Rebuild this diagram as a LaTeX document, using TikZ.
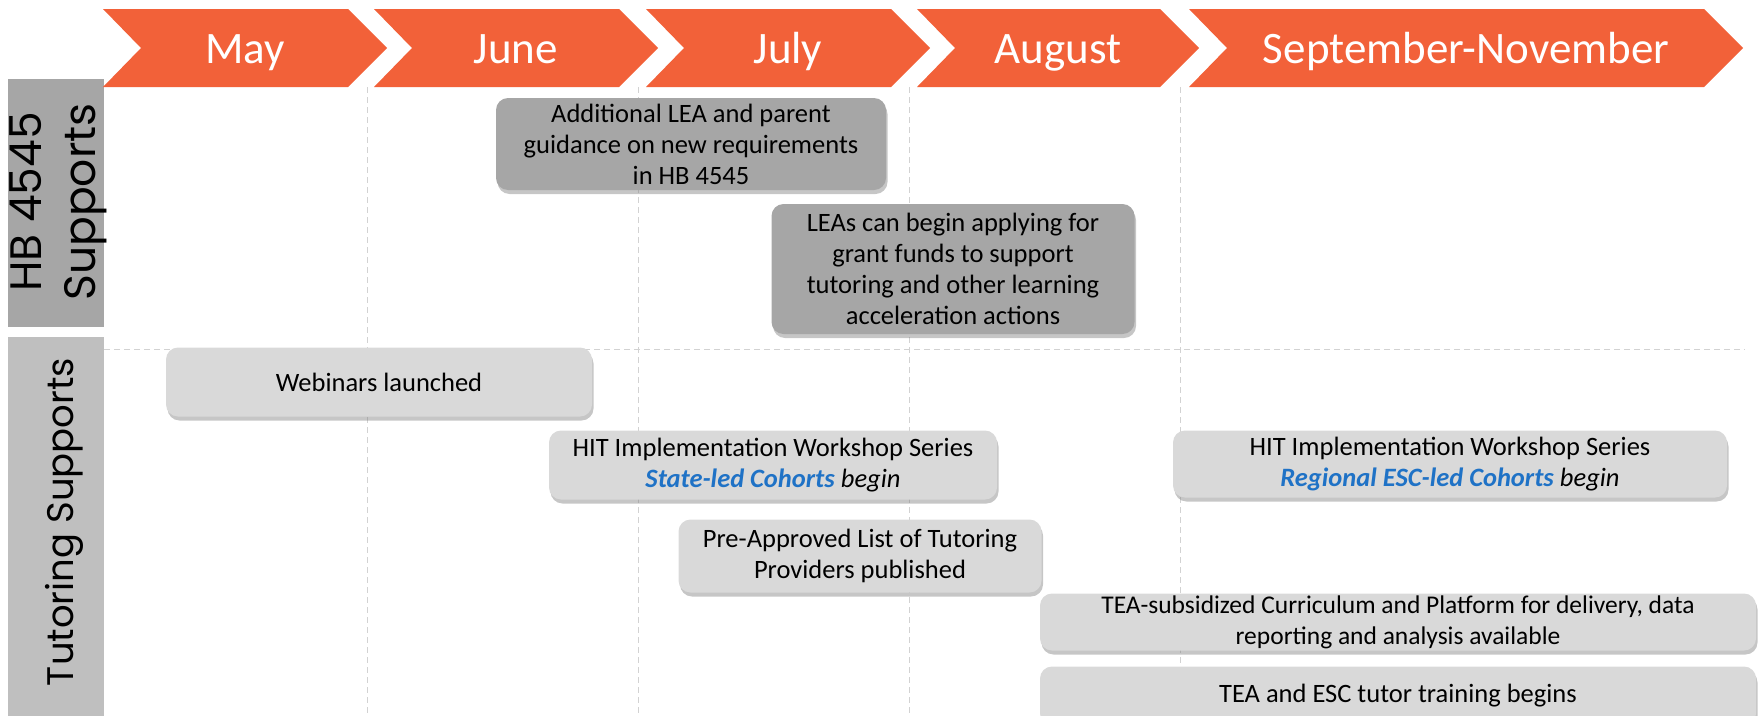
\documentclass[tikz,border=0pt]{standalone}
\usepackage{fontspec}
\setmainfont{Carlito}
\newfontfamily\sidefont{Poppins}
\usepackage{xcolor}
\usepackage{tikz}
\usetikzlibrary{shadows}

\definecolor{chevorange}{HTML}{F26139}
\definecolor{boxdark}{HTML}{A6A6A6}
\definecolor{boxlight}{HTML}{D9D9D9}
\definecolor{sidedark}{HTML}{A6A6A6}
\definecolor{sidelight}{HTML}{BFBFBF}
\definecolor{cohortblue}{HTML}{1F72C6}

\begin{document}
\begin{tikzpicture}[x=1pt, y=-1pt,
      monthlbl/.style={font=\fontsize{45}{50}\selectfont, text=white, anchor=base, inner sep=0pt},
      gridline/.style={gray!35, line width=1pt, dash pattern=on 6pt off 4pt},
      sidelbl/.style={font=\sidefont\fontsize{37}{44}\selectfont, rotate=90, align=center, inner sep=0pt},
      event/.style={rounded corners=12pt, align=center, inner sep=0pt, text=black,
        font=\fontsize{26.5}{31}\selectfont,
        drop shadow={shadow xshift=1.5pt, shadow yshift=-4pt, opacity=0.45}},
      darkev/.style={event, fill=boxdark},
      lightev/.style={event, fill=boxlight}]
    \useasboundingbox (0,0) rectangle (1759,715);
    % month separators and lane separator
    \foreach \x in {367,638,909,1180} {
      \draw[gridline] (\x,87) -- (\x,715);
    }
    \draw[gridline] (104,349) -- (1745,349);
    % lane labels
    \fill[sidedark] (8,79) rectangle (104,327);
    \node[sidelbl, font=\sidefont\fontsize{44}{54}\selectfont] (hblbl) at (58,202) {HB 4545\\Supports};
    \fill[sidelight] (8,337) rectangle (104,725);
    \node[sidelbl] (tutlbl) at (64,522) {Tutoring Supports};
    % month chevrons
    \foreach \l/\r/\n/\t in {103/348/may/May, 374/619/june/June, 646/891/july/July,
                             917/1160/aug/August, 1189/1704/sepnov/September-November} {
      \fill[chevorange] (\l,9) -- (\r,9) -- (\r+39,48) -- (\r,87) -- (\l,87) -- (\l+38,48) -- cycle;
      \node[monthlbl] (\n) at ({(\l+\r+39)/2},63) {\t};
    }
    % HB 4545 supports
    \node[darkev, minimum width=390pt, minimum height=92pt] (guide) at (691,144)
      {Additional LEA and parent\\guidance on new requirements\\in HB 4545};
    \node[darkev, minimum width=363pt, minimum height=130pt] (grant) at (953,269)
      {LEAs can begin applying for\\grant funds to support\\tutoring and other learning\\acceleration actions};
    % tutoring supports
    \node[lightev, minimum width=426pt, minimum height=69pt] (webinar) at (379,382)
      {Webinars launched};
    \node[lightev, minimum width=448pt, minimum height=69pt] (hitstate) at (773,465)
      {HIT Implementation Workshop Series\\\textcolor{cohortblue}{\textbf{\textit{State-led Cohorts}}} \textit{begin}};
    \node[lightev, minimum width=363pt, minimum height=73pt] (provider) at (860,556)
      {Pre-Approved List of Tutoring\\Providers published};
    \node[lightev, minimum width=554pt, minimum height=67pt] (hitregion) at (1450,464)
      {HIT Implementation Workshop Series\\\textcolor{cohortblue}{\textbf{\textit{Regional ESC-led Cohorts}}} \textit{begin}};
    \node[lightev, minimum width=716pt, minimum height=57pt, font=\fontsize{25.5}{31}\selectfont] (platform) at (1398,622)
      {TEA-subsidized Curriculum and Platform for delivery, data\\reporting and analysis available};
    \node[lightev, minimum width=716pt, minimum height=59pt] (training) at (1398,696)
      {TEA and ESC tutor training begins};
  \end{tikzpicture}
\end{document}
